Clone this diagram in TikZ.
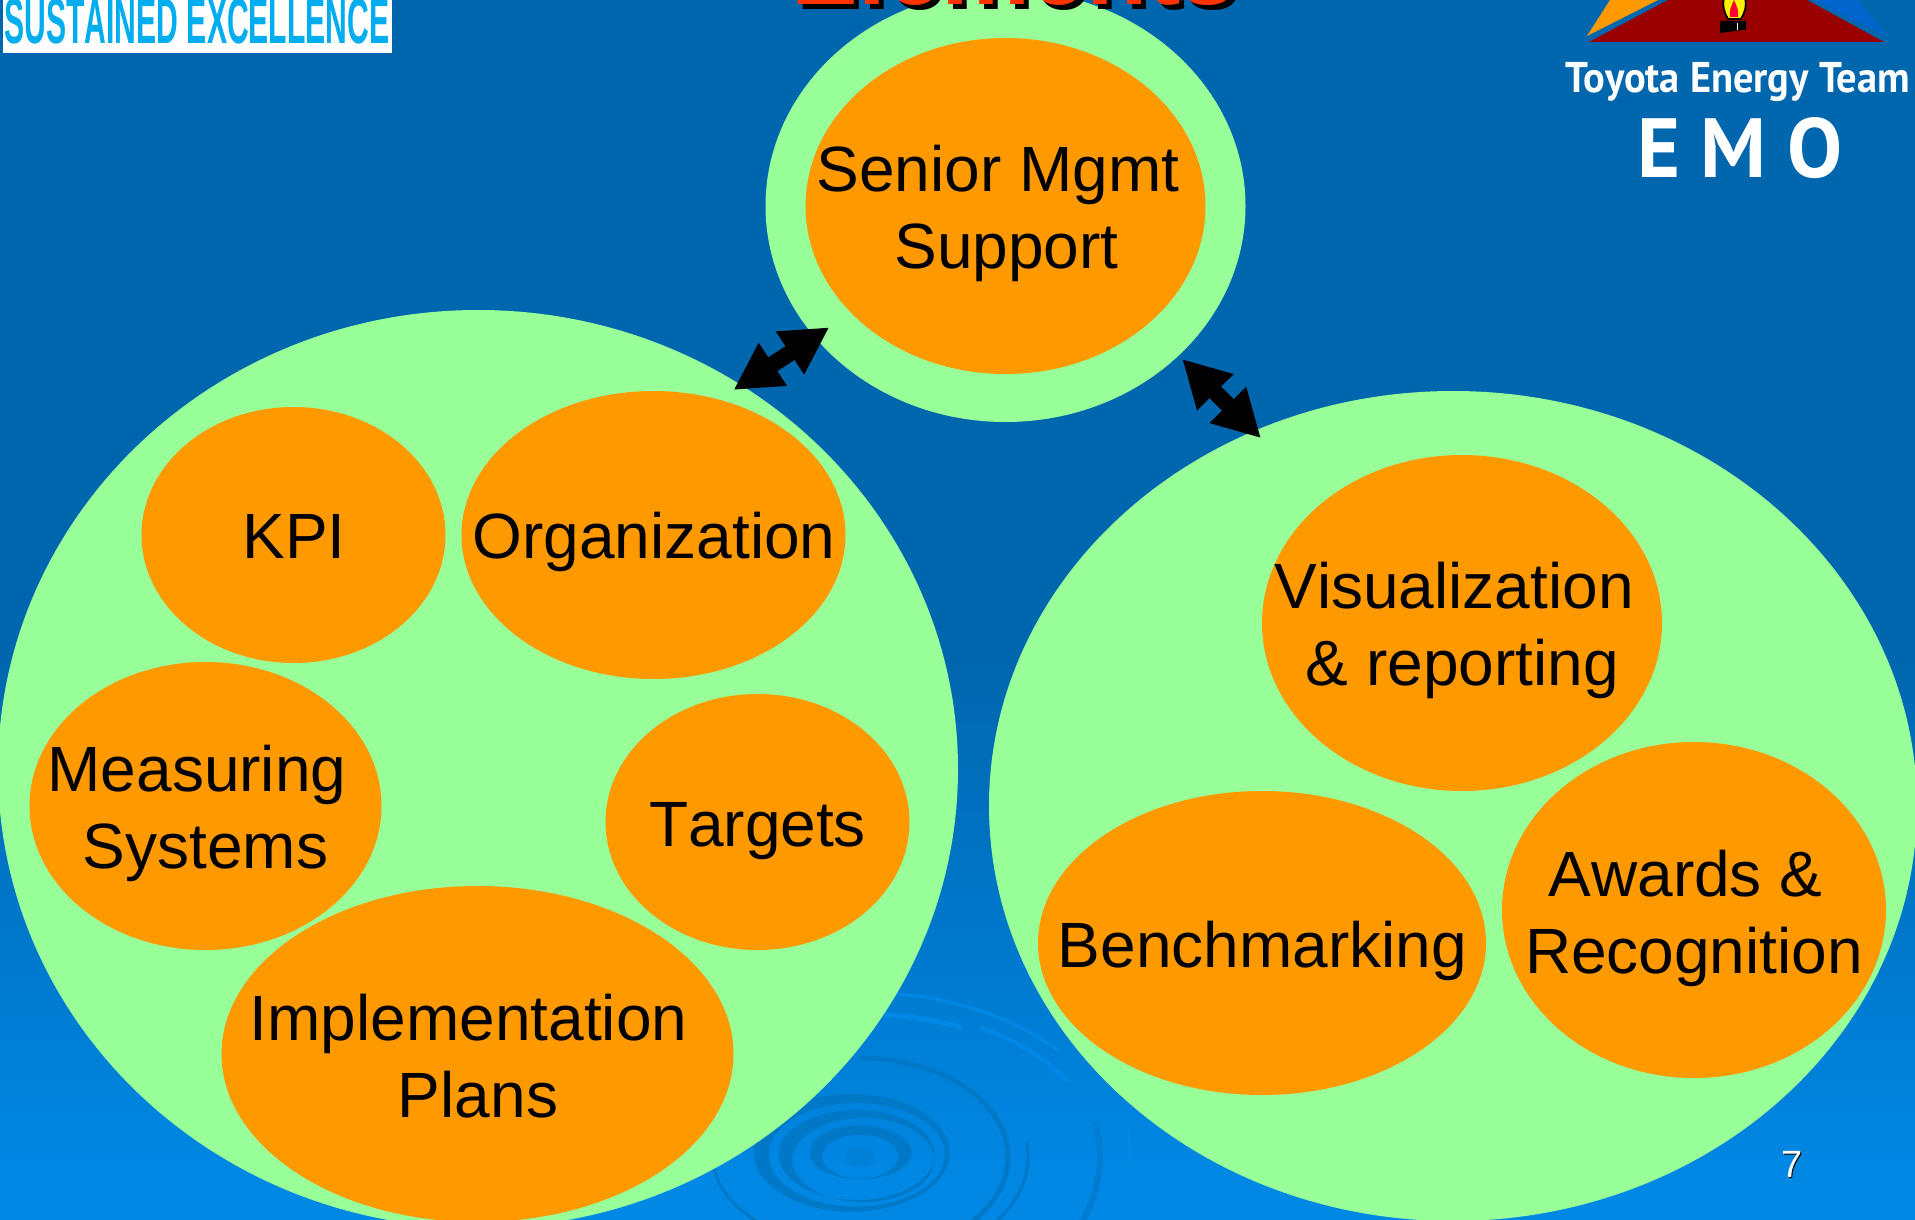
\documentclass[tikz,border=0pt]{standalone}
\usepackage{fontspec}
\setmainfont{Liberation Sans}[Kerning=Off]
\newfontfamily\logofont{PT Sans}
\usetikzlibrary{shapes.geometric,arrows.meta}
\definecolor{bgA}{HTML}{0066AE}
\definecolor{bgB}{HTML}{007CD2}
\definecolor{bgC}{HTML}{0088E4}
\definecolor{ripD}{HTML}{0078C8}
\definecolor{ripE}{HTML}{007DD2}
\definecolor{ripF}{HTML}{0080D6}
\definecolor{ripL}{HTML}{0088E6}
\definecolor{paleg}{HTML}{99FF99}
\definecolor{orng}{HTML}{FF9900}
\definecolor{ttl}{HTML}{FF3300}
\definecolor{logoB}{HTML}{0066CC}
\definecolor{logoR}{HTML}{990000}
\definecolor{flameR}{HTML}{FF0033}
\definecolor{logoC}{HTML}{00AEEF}
\pgfdeclareverticalshading{bgshade}{100bp}{color(0bp)=(bgC); color(26.6bp)=(bgC); color(34bp)=(bgB); color(48.4bp)=(bgA); color(100bp)=(bgA)}
\newcommand\rip[6]{\draw[line width=#5pt,draw=#6] ([shift={(860,-1157)}]#1:#3 and #4) arc[start angle=#1,end angle=#2,x radius=#3,y radius=#4];}
\tikzset{
 big/.style={ellipse,inner sep=0pt,fill=paleg},
 blob/.style={ellipse,inner sep=0pt,fill=orng},
 lbl/.style={font=\fontsize{64}{77}\selectfont,text=black,align=center,anchor=base,inner sep=0pt},
 dbl/.style={line width=16.5pt,draw=black,{Triangle[length=47pt,width=48pt]}-{Triangle[length=47pt,width=48pt]}},
}
\begin{document}
\begin{tikzpicture}[x=1pt,y=1pt]
\useasboundingbox (0,0) rectangle (1915,-1220);
\fill[shading=bgshade] (0,0) rectangle (1915,-1220);
% ripple
\fill[ripF] (860,-1157) ellipse[x radius=15,y radius=10];
\fill[ripD,even odd rule] (860.7,-1152.3) ellipse[x radius=51,y radius=27] (860.3,-1156.7) ellipse[x radius=38,y radius=22];
\fill[ripD,even odd rule] (856.7,-1155) ellipse[x radius=78,y radius=45] (863.3,-1160) ellipse[x radius=71,y radius=42];
\fill[ripD,even odd rule] (851.7,-1152.7) ellipse[x radius=98,y radius=59] (856.7,-1154.7) ellipse[x radius=88,y radius=52];
\rip{-60}{90}{148}{99}{5}{ripD}
\rip{185}{235}{147}{90}{3}{ripD}
\rip{-55}{8}{168}{110}{3}{ripD}
\rip{-40}{12}{240}{170}{6}{ripE}
\rip{-30}{8}{270}{190}{3}{ripL}
\rip{30}{60}{240}{150}{4}{ripL}
\rip{40}{83}{260}{165}{3}{ripL}
\rip{65}{85}{240}{143}{5}{ripL}
% logo left
\fill[white] (3,0) rectangle (392,-53);
\node[font=\fontsize{64}{70}\selectfont\bfseries,text=logoC,xscale=0.471,anchor=base,inner sep=0pt] (logotext) at (197,-44) {SUSTAINED EXCELLENCE};
% logo right
\fill[orng] (1587,-36) -- (1610,0) -- (1658,0) -- cycle;
\fill[logoB] (1888,-37) -- (1813,0) -- (1858,0) -- cycle;
\fill[logoR] (1589,-42) -- (1668,0) -- (1807,0) -- (1884,-42) -- cycle;
\draw[fill=yellow,line width=1.8pt] (1728,-19) .. controls (1724,-12) and (1722,-6) .. (1724,2) -- (1745,2) .. controls (1747,-6) and (1745,-12) .. (1741,-19) -- cycle;
\fill[flameR] (1730,-17) .. controls (1729,-12) and (1731,-6) .. (1734,0) .. controls (1737,-6) and (1739,-12) .. (1738,-17) -- cycle;
\fill[black] (1720,-21) -- (1746,-21) -- (1746,-29.5) -- (1720,-33) -- cycle;
\draw[white,line width=0.8pt] (1737,-23) -- (1737,-30);
\node[font=\logofont\bfseries\fontsize{43}{46}\selectfont,text=white,anchor=base,inner sep=0pt,xscale=0.94] (team) at (1738,-93) {Toyota Energy Team};
\node[font=\logofont\bfseries\fontsize{84}{90}\selectfont,text=white,anchor=base,inner sep=0pt,xscale=0.98] (emo) at (1740,-178) {E M O};
% big circles
\node[big,minimum width=960pt,minimum height=918pt] (left) at (478,-769) {};
\node[big,minimum width=928pt,minimum height=830pt] (right) at (1453,-806) {};
\node[big,minimum width=480pt,minimum height=432pt] (top) at (1005.5,-206) {};
% title
\node[font=\fontsize{100}{104}\selectfont\bfseries,text=black,anchor=base,inner sep=0pt] (titleshadow) at (1019,-9.5) {Elements};
\node[font=\fontsize{100}{104}\selectfont\bfseries,text=ttl,anchor=base,inner sep=0pt] (title) at (1014,-5) {Elements};
% connectors
\coordinate (a1) at (829.3,-327.3);
\coordinate (a2) at (733.5,-390);
\coordinate (b1) at (1182.2,-359);
\coordinate (b2) at (1261,-438.2);
\draw[dbl] (a1) -- (a2);
\draw[dbl] (b1) -- (b2);
% blobs
\node[blob,minimum width=400pt,minimum height=336pt] (senior) at (1005.5,-206) {};
\node[blob,minimum width=304pt,minimum height=256pt] (kpi) at (293.5,-535) {};
\node[blob,minimum width=384pt,minimum height=288pt] (org) at (653.5,-535) {};
\node[blob,minimum width=352pt,minimum height=288pt] (meas) at (205.5,-806) {};
\node[blob,minimum width=304pt,minimum height=256pt] (targ) at (757.5,-822) {};
\node[blob,minimum width=512pt,minimum height=336pt] (impl) at (477.5,-1054) {};
\node[blob,minimum width=400pt,minimum height=336pt] (vis) at (1462,-623) {};
\node[blob,minimum width=448pt,minimum height=304pt] (bench) at (1262,-943) {};
\node[blob,minimum width=384pt,minimum height=336pt] (award) at (1694,-910) {};
% labels
\node[lbl] (seniorT) at (1006.5,-268) {Senior Mgmt\hspace*{17pt}\\Support};
\node[lbl] (kpiT) at (294,-558) {KPI};
\node[lbl] (orgT) at (654,-558.5) {Organization};
\node[lbl] (measT) at (205.5,-868.5) {Measuring\hspace*{17pt}\\Systems};
\node[lbl] (targT) at (757.5,-846.5) {Targets};
\node[lbl] (implT) at (478,-1117) {Implementation\hspace*{19pt}\\Plans};
\node[lbl] (visT) at (1462.5,-685) {Visualization\hspace*{17pt}\\\& reporting};
\node[lbl] (benchT) at (1262.5,-967) {Benchmarking};
\node[lbl] (awardT) at (1694,-973) {Awards \&\hspace*{17pt}\\Recognition};
% page number
\node[font=\fontsize{38}{40}\selectfont,text=black,anchor=base,inner sep=0pt] (pageS) at (1793,-1178) {7};
\node[font=\fontsize{38}{40}\selectfont,text=white,anchor=base,inner sep=0pt] (page) at (1792,-1177) {7};
\end{tikzpicture}
\end{document}
